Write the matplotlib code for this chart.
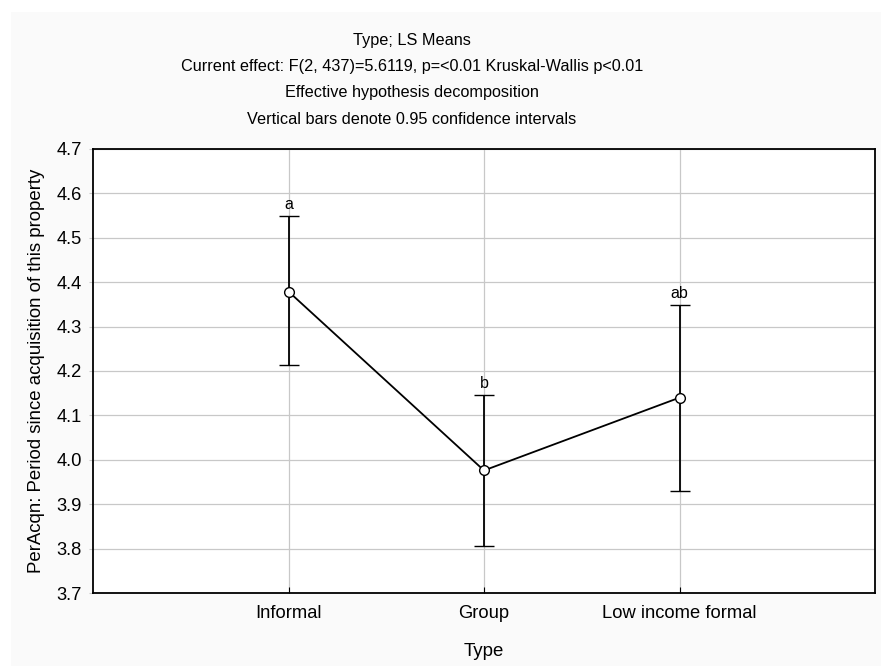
import numpy as np
import matplotlib.pyplot as plt
from matplotlib.patches import Rectangle

plt.rcParams['font.family'] = ['Liberation Sans', 'DejaVu Sans']

categories = ["Informal", "Group", "Low income formal"]
means = [4.379, 3.976, 4.140]
upper = [4.549, 4.146, 4.349]
lower = [4.213, 3.806, 3.930]
letters = ["a", "b", "ab"]

title_lines = ["Type; LS Means",
               "Current effect: F(2, 437)=5.6119, p=<0.01 Kruskal-Wallis p<0.01",
               "Effective hypothesis decomposition",
               "Vertical bars denote 0.95 confidence intervals"]

W, H = 881, 666
fig = plt.figure(figsize=(W / 100, H / 100), dpi=100, facecolor='white')
# light grey panel behind everything
fig.patches.append(Rectangle((11 / W, 0), 1 - 11 / W, 1 - 12 / H, transform=fig.transFigure,
                             facecolor='#fafafa', edgecolor='none', zorder=-10))

ax = fig.add_axes([93 / W, 1 - 593 / H, (875 - 93) / W, (593 - 149) / H])
ax.set_facecolor('white')

x = np.arange(1, len(categories) + 1)
m = np.array(means)
yerr = [m - np.array(lower), np.array(upper) - m]
ax.errorbar(x, m, yerr=yerr, color='black', lw=1.3, elinewidth=1.3, capsize=7, capthick=1.3,
            marker='o', markersize=7, markerfacecolor='white', markeredgecolor='black',
            markeredgewidth=1.0, zorder=3)

for xi, up, lab in zip(x, upper, letters):
    ax.text(xi, up + 0.008, lab, ha='center', va='bottom', fontsize=11.5)

ax.set_xlim(0, 4)
ax.set_ylim(3.7, 4.7)
ax.set_yticks(np.arange(3.7, 4.71, 0.1))
ax.set_yticklabels([f"{v:.1f}" for v in np.arange(3.7, 4.71, 0.1)])
ax.set_xticks(x)
ax.set_xticklabels(categories)
ax.grid(True, color='#c8c8c8', lw=0.9)
ax.set_axisbelow(True)
ax.tick_params(axis='y', direction='out', length=3, color='#c8c8c8', labelsize=13.2, pad=5)
ax.tick_params(axis='x', direction='in', length=4, color='black', labelsize=13.2, pad=9)
for s in ax.spines.values():
    s.set_linewidth(1.3)
    s.set_color('black')

ax.set_xlabel("Type", fontsize=13.4, labelpad=15)
ax.set_ylabel("PerAcqn: Period since acquisition of this property", fontsize=13.4, labelpad=8)

for i, line in enumerate(title_lines):
    fig.text(412 / W, 1 - (40 + i * 26.5) / H, line, ha='center', va='center', fontsize=11.7)

fig.savefig("out.png", dpi=100, facecolor=fig.get_facecolor())
